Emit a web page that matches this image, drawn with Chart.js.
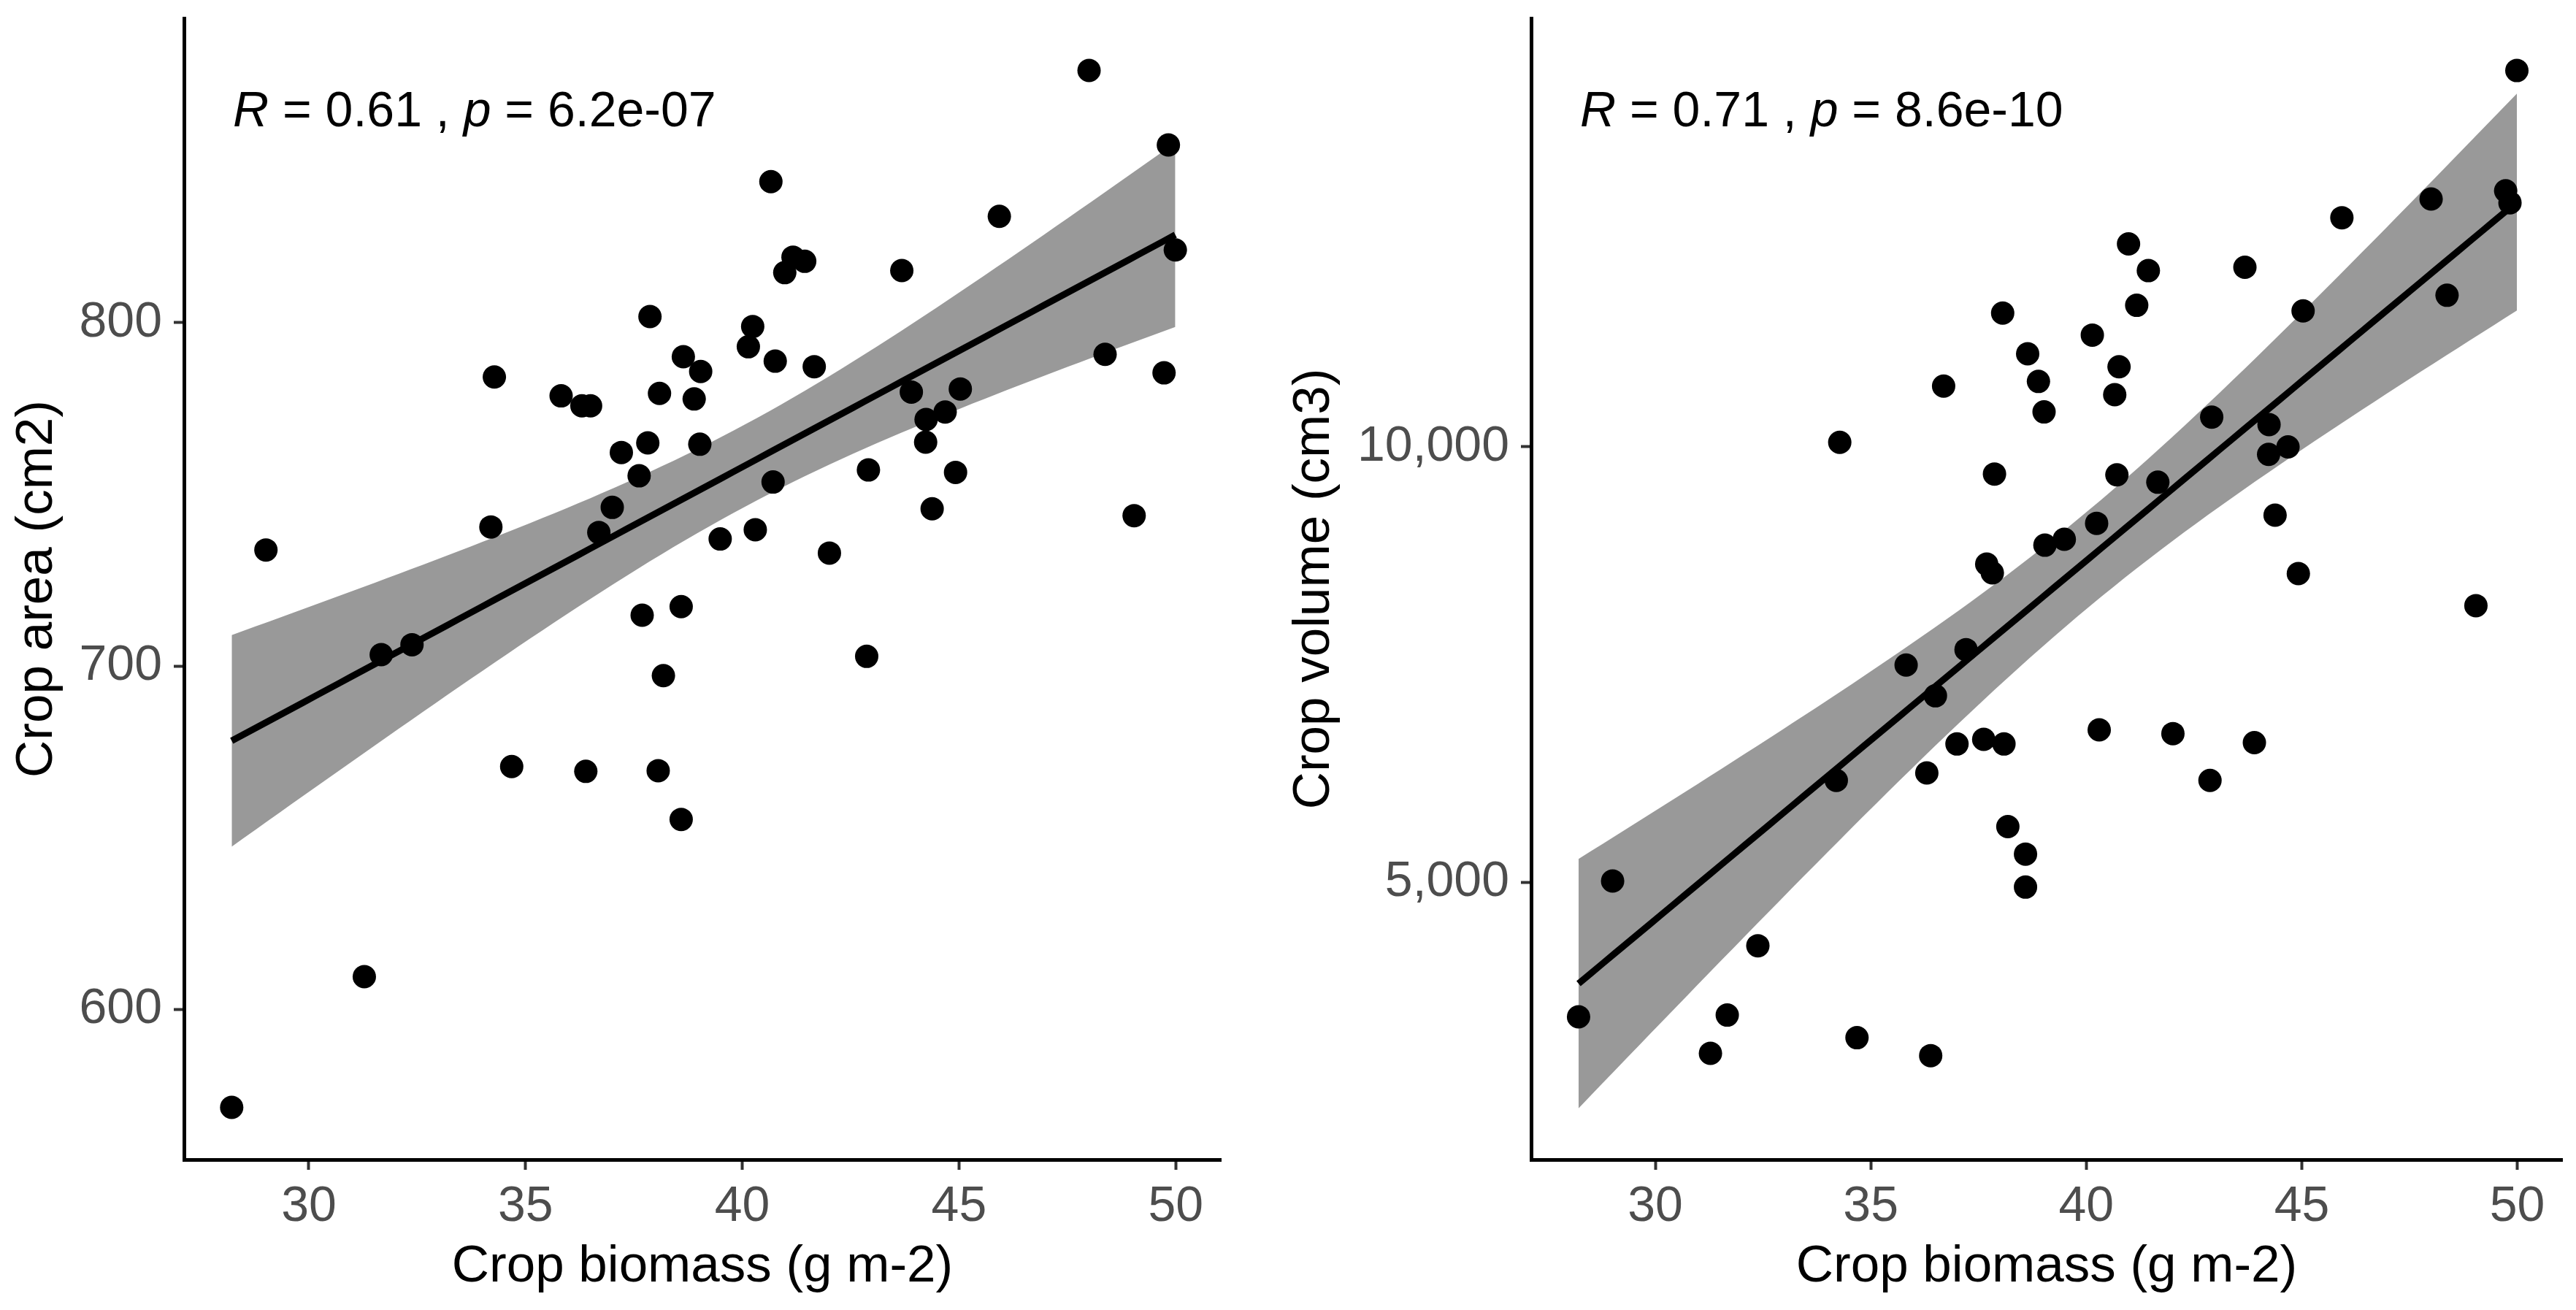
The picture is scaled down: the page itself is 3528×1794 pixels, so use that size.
<!DOCTYPE html>
<html>
<head>
<meta charset="utf-8">
<script src="https://cdn.jsdelivr.net/npm/chart.js@4.4.1/dist/chart.umd.min.js"></script>
<style>
  html, body { margin: 0; padding: 0; background: #fff; }
  body { width: 3528px; height: 1794px; position: relative; overflow: hidden; }
  .panel { position: absolute; top: 0; height: 1794px; }
</style>
</head>
<body>
<div class="panel" style="left:0;width:1740px"><canvas id="area-chart"></canvas></div>
<div class="panel" style="left:1740px;width:1788px"><canvas id="volume-chart"></canvas></div>
<script>
// crop biomass (g m-2), shared by both panels
const biomass = [28.22, 29.01, 31.28, 31.67, 32.38, 34.20, 34.28, 34.68, 35.82, 36.30,
  36.39, 36.50, 36.69, 37.00, 37.21, 37.62, 37.69, 37.82, 37.87, 38.06,
  38.09, 38.18, 38.59, 38.59, 38.64, 38.89, 39.02, 39.04, 39.49, 40.14,
  40.24, 40.30, 40.66, 40.71, 40.76, 40.98, 41.17, 41.44, 41.66, 42.01,
  42.87, 42.91, 43.68, 43.90, 44.23, 44.24, 44.38, 44.68, 44.92, 45.03,
  45.93, 48.00, 48.37, 49.04, 49.73, 49.83, 49.99];

// crop area (cm2)
const cropArea = [571.4, 733.8, 609.5, 703.3, 706.2, 740.5, 784.2, 670.7, 778.7, 775.8,
  669.3, 775.8, 738.9, 746.2, 762.2, 755.4, 714.8, 765.0, 801.8, 669.5,
  779.4, 697.2, 717.3, 655.3, 790.1, 777.8, 764.6, 785.8, 737.0, 793.0,
  798.9, 739.7, 841.1, 753.6, 788.8, 814.6, 819.1, 817.9, 787.2, 732.9,
  702.8, 757.1, 815.2, 779.8, 765.2, 771.8, 745.8, 774.0, 756.4, 780.7,
  831.0, 873.5, 790.8, 743.8, 785.4, 851.8, 821.2];

// crop volume (cm3)
const cropVolume = [3456, 5015, 3037, 3476, 4272, 6170, 10051, 3216, 7494, 6256,
  3010, 7141, 10696, 6588, 7671, 6641, 8652, 8552, 9687, 11535,
  6588, 5639, 5324, 4945, 11067, 10750, 10400, 8870, 8938, 11282,
  9121, 6750, 10598, 9678, 10918, 12329, 11624, 12022, 9593, 6707,
  6170, 10341, 12061, 6603, 9913, 10255, 9215, 9998, 8544, 11560,
  12629, 12844, 11739, 8176, 12938, 12801, 14319];

const xTicks = [30, 35, 40, 45, 50];
const areaTicks = [600, 700, 800];
const volumeTicks = [5000, 10000];

const areaLabel = [['R', true], [' = 0.61 , ', false], ['p', true], [' = 6.2e-07', false]];
const volumeLabel = [['R', true], [' = 0.71 , ', false], ['p', true], [' = 8.6e-10', false]];

const FONT = '"Liberation Sans", Arial, Helvetica, sans-serif';
Chart.defaults.font.family = FONT;

// linear fit + 95% confidence band, same as geom_smooth(method = "lm")
function lmBand(xs, ys, steps) {
  const n = xs.length;
  const mx = xs.reduce((a, b) => a + b, 0) / n;
  const my = ys.reduce((a, b) => a + b, 0) / n;
  let sxx = 0, sxy = 0;
  xs.forEach((x, i) => { sxx += (x - mx) ** 2; sxy += (x - mx) * (ys[i] - my); });
  const b = sxy / sxx, a = my - b * mx;
  let sse = 0;
  xs.forEach((x, i) => { sse += (ys[i] - a - b * x) ** 2; });
  const s = Math.sqrt(sse / (n - 2));
  const t = 2.004; // qt(0.975, 55)
  const lo = Math.min(...xs), hi = Math.max(...xs);
  const out = [];
  for (let k = 0; k < steps; k++) {
    const x = lo + (hi - lo) * k / (steps - 1);
    const f = a + b * x;
    const se = s * Math.sqrt(1 / n + (x - mx) ** 2 / sxx);
    out.push({ x: x, fit: f, lo: f - t * se, hi: f + t * se });
  }
  return out;
}

const corLabel = {
  id: 'corLabel',
  afterDraw(chart, args, opts) {
    const { ctx, chartArea } = chart;
    let x = chartArea.left + 67;
    const y = chartArea.top + 148;
    ctx.save();
    ctx.fillStyle = '#000';
    ctx.textBaseline = 'alphabetic';
    opts.parts.forEach(([txt, italic]) => {
      ctx.font = (italic ? 'italic ' : '') + '68px ' + FONT;
      ctx.fillText(txt, x, y);
      x += ctx.measureText(txt).width;
    });
    ctx.restore();
  }
};

function makeChart(id, ys, yTicks, yMin, yMax, yTitle, label, pad, yWidth, yTitlePad, fmt) {
  const band = lmBand(biomass, ys, 80);
  const axisCommon = {
    type: 'linear',
    border: { display: true, color: '#000', width: 5 },
    grid: { display: true, drawOnChartArea: false, drawTicks: true, tickLength: 14, tickWidth: 4, tickColor: '#333333' },
  };
  return new Chart(document.getElementById(id), {
    type: 'line',
    data: {
      datasets: [
        { label: 'points', data: biomass.map((x, i) => ({ x: x, y: ys[i] })), showLine: false,
          pointRadius: 16, pointHoverRadius: 16, pointBackgroundColor: '#000', pointBorderWidth: 0 },
        { label: 'fit', data: band.map(p => ({ x: p.x, y: p.fit })), borderColor: '#000', borderWidth: 9,
          pointRadius: 0, fill: false, tension: 0 },
        { label: 'lower', data: band.map(p => ({ x: p.x, y: p.lo })), borderWidth: 0, borderColor: 'rgba(0,0,0,0)',
          pointRadius: 0, fill: false },
        { label: 'upper', data: band.map(p => ({ x: p.x, y: p.hi })), borderWidth: 0, borderColor: 'rgba(0,0,0,0)',
          pointRadius: 0, fill: '-1', backgroundColor: '#999999' }
      ]
    },
    options: {
      responsive: true,
      maintainAspectRatio: false,
      animation: false,
      events: [],
      layout: { padding: pad },
      plugins: { legend: { display: false }, tooltip: { enabled: false }, corLabel: { parts: label } },
      scales: {
        x: Object.assign({}, axisCommon, {
          position: 'bottom', min: 27.12, max: 51.04,
          afterBuildTicks: s => { s.ticks = xTicks.map(v => ({ value: v })); },
          afterFit: s => { s.height = 206; s.paddingLeft = 0; s.paddingRight = 0; },
          ticks: { color: '#4D4D4D', font: { size: 68 }, padding: 10, autoSkip: false, maxRotation: 0 },
          title: { display: true, text: 'Crop biomass (g m-2)', color: '#000', font: { size: 71 }, padding: { top: 0, bottom: 16 } }
        }),
        y: Object.assign({}, axisCommon, {
          position: 'left', min: yMin, max: yMax,
          afterBuildTicks: s => { s.ticks = yTicks.map(v => ({ value: v })); },
          afterFit: s => { s.width = yWidth; s.paddingTop = 0; s.paddingBottom = 0; },
          ticks: { color: '#4D4D4D', font: { size: 68 }, padding: 16, callback: fmt },
          title: { display: true, text: yTitle, color: '#000', font: { size: 71 }, padding: { top: yTitlePad, bottom: 0 } }
        })
      }
    },
    plugins: [corLabel]
  });
}

makeChart('area-chart', cropArea, areaTicks, 556.2, 888.7, 'Crop area (cm2)', areaLabel,
  { left: 0, top: 25, right: 68, bottom: 0 }, 252, 9, v => String(v));
makeChart('volume-chart', cropVolume, volumeTicks, 1817, 14919, 'Crop volume (cm3)', volumeLabel,
  { left: 0, top: 25, right: 19, bottom: 0 }, 357, 18, v => v.toLocaleString('en-US'));
</script>
</body>
</html>
